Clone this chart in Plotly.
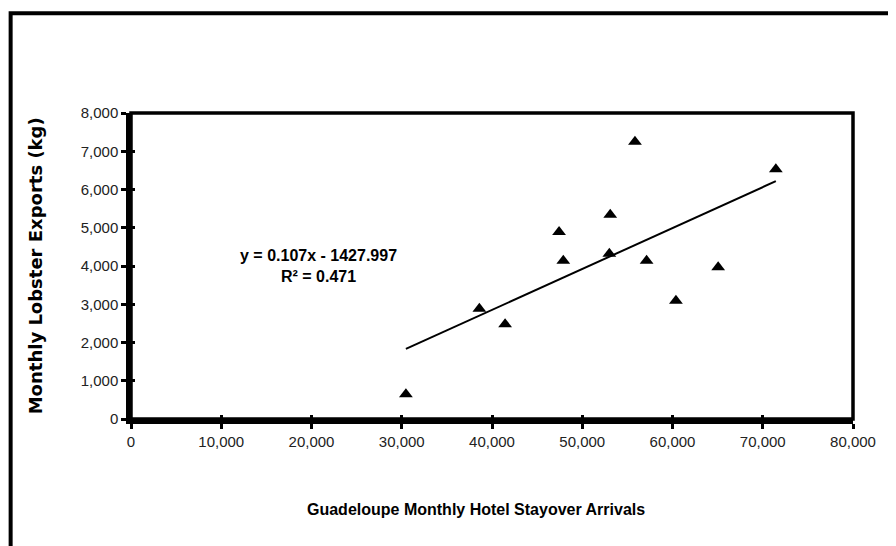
import plotly.graph_objects as go

# Data
hotel_arrivals = [30460, 38600, 41450, 47430, 47900, 53100, 53000, 55840, 57130, 60380, 65060, 71450]
lobster_exports = [650, 2880, 2480, 4890, 4140, 5340, 4320, 7250, 4140, 3090, 3970, 6530]
fit_slope = [0.107]
fit_intercept = [-1427.997]
fit_r2 = [0.471]
x_ticks = [0, 10000, 20000, 30000, 40000, 50000, 60000, 70000, 80000]
y_ticks = [0, 1000, 2000, 3000, 4000, 5000, 6000, 7000, 8000]

FONT = "Liberation Sans, Arial, sans-serif"

fit_x = [min(hotel_arrivals), max(hotel_arrivals)]
fit_y = [fit_slope[0] * v + fit_intercept[0] for v in fit_x]

fig = go.Figure()
fig.add_trace(go.Scatter(x=fit_x, y=fit_y, mode="lines",
                         line=dict(color="black", width=2), showlegend=False, hoverinfo="skip"))
fig.add_trace(go.Scatter(x=hotel_arrivals, y=lobster_exports, mode="markers",
                         marker=dict(symbol="triangle-up", size=12, color="black"),
                         showlegend=False))
# dummy trace so the overlay axes (inner tick halves) are drawn
fig.add_trace(go.Scatter(x=[None], y=[None], xaxis="x2", yaxis="y2", showlegend=False, hoverinfo="skip"))

axis_common = dict(showgrid=False, zeroline=False, color="black",
                   tickfont=dict(family=FONT, size=15, color="#222"))

# figure is placed 8px from the page's top-left corner by the page's body margin
W, H = 888, 538
L, R, T, B = 122.5, 42.7, 105.3, 126.7
pw, ph = W - L - R, H - T - B

def px_x(page_x):
    return (page_x - 8 - L) / pw

def px_y(page_y):
    return (H - B - (page_y - 8)) / ph

fig.update_layout(
    width=W, height=H,
    margin=dict(l=L, r=R, t=T, b=B),
    paper_bgcolor="white", plot_bgcolor="white",
    xaxis=dict(range=[0, 80000], tickvals=x_ticks, ticktext=[f"{v:,}" for v in x_ticks],
               ticks="outside", ticklen=5, tickwidth=2.5, tickcolor="black",
               showline=True, linewidth=4.5, linecolor="black", **axis_common),
    yaxis=dict(range=[0, 8000], tickvals=y_ticks, ticktext=[f"{v:,}" for v in y_ticks],
               ticks="outside", ticklen=5, tickwidth=2.5, tickcolor="black",
               showline=True, linewidth=4.5, linecolor="black", **axis_common),
    xaxis2=dict(range=[0, 80000], tickvals=x_ticks, overlaying="x", anchor="y2",
                ticks="inside", ticklen=4, tickwidth=2.5, tickcolor="black",
                showticklabels=False, showgrid=False, zeroline=False, showline=False),
    yaxis2=dict(range=[0, 8000], tickvals=y_ticks, overlaying="y", anchor="x2",
                ticks="inside", ticklen=4, tickwidth=2.5, tickcolor="black",
                showticklabels=False, showgrid=False, zeroline=False, showline=False),
    shapes=[
        # plot box (top / right edges)
        dict(type="rect", xref="paper", yref="paper", x0=0, x1=1, y0=0, y1=1,
             line=dict(color="black", width=3.5), layer="above"),
        # outer frame of the figure (cut off at right and bottom)
        dict(type="rect", xref="paper", yref="paper", x0=px_x(10), x1=px_x(910),
             y0=px_y(570), y1=px_y(13.5), line=dict(color="black", width=4)),
    ],
    annotations=[
        dict(x=px_x(318), y=px_y(266), xref="paper", yref="paper", showarrow=False,
             xanchor="center", yanchor="middle",
             text=f"<b>y = {fit_slope[0]}x - {abs(fit_intercept[0])}<br>R² = {fit_r2[0]}</b>",
             font=dict(family=FONT, size=16, color="black"), align="center"),
        dict(x=px_x(476), y=px_y(510), xref="paper", yref="paper", showarrow=False,
             xanchor="center", yanchor="middle",
             text="<b>Guadeloupe Monthly Hotel Stayover Arrivals</b>",
             font=dict(family=FONT, size=16, color="black")),
        dict(x=px_x(35), y=px_y(266), xref="paper", yref="paper", showarrow=False, textangle=-90,
             xanchor="center", yanchor="middle",
             text="<b>Monthly Lobster Exports (kg)</b>",
             font=dict(family="DejaVu Sans", size=18, color="black")),
    ],
)

fig.write_html("out.html")
